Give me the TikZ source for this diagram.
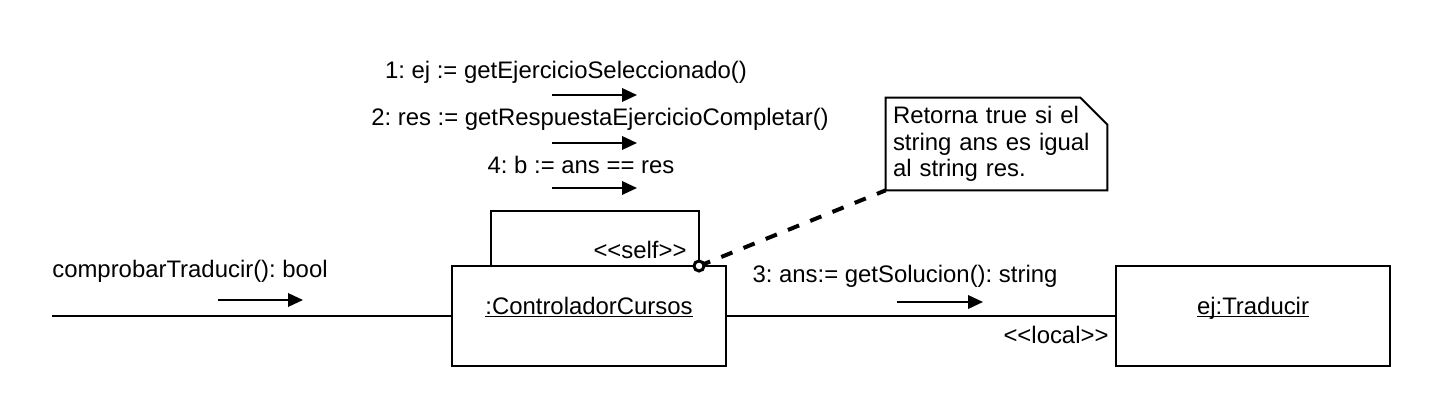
\documentclass[tikz,border=0pt]{standalone}
\usepackage{fontspec}
\setmainfont{Liberation Sans}
\usetikzlibrary{positioning,calc}
\usetikzlibrary{arrows.meta}
\newcommand{\estereo}[1]{<\kern0pt<#1>\kern0pt>}
\newcommand{\objname}[1]{\underline{\smash{#1}}}
\tikzset{
  obj/.style={draw=black,line width=0.04cm,fill=white,minimum width=5.48cm,minimum height=2cm,inner sep=0pt},
  link/.style={draw=black,line width=0.04cm},
  msg/.style={draw=black,line width=0.04cm,-{Triangle[length=0.3cm,width=0.27cm]}},
  lbl/.style={inner sep=0pt},
}
\tikzset{notebox/.style={minimum width=4.42cm,minimum height=1.84cm,inner sep=0.14cm,align=left,text width=4.14cm}, notelink/.style={draw=black,line width=0.08cm,dash pattern=on 0.24cm off 0.24cm}}

\begin{document}
\frenchspacing
\begin{tikzpicture}[x=0.02cm,y=-0.02cm,font=\fontsize{13.6}{15.2}\selectfont]
\useasboundingbox (0,0) rectangle (1442,418);
% objects
\node[obj] (ctrl) at (589,316) {\objname{:ControladorCursos}};
\node[obj] (traducir) at (1253,316) {\objname{ej:Traducir}};
\coordinate (inicio) at (52,316);
\draw[link] (inicio) -- (ctrl.west);
\draw[link] (ctrl.east) -- (traducir.west);
% self link
\coordinate (selfL) at (491,266);
\coordinate (selfR) at (699,266);
\draw[link] (selfL) -- ++(0,-55) -| (selfR);
\node[lbl] (self) at (640,250) {\estereo{self}};
\node[lbl] (local) at (1056,335) {\estereo{local}};
% messages
\node[lbl] (llamada) at (190,271) {comprobarTraducir(): bool};
\coordinate (c0a) at (218,300);
\coordinate (c0b) at (303,300);
\draw[msg] (c0a) -- (c0b);
\node[lbl] (m1) at (566,72) {1: ej := getEjercicioSeleccionado()};
\node[lbl] (m2) at (600,119) {2: res := getRespuestaEjercicioCompletar()};
\node[lbl] (m4) at (581,165) {4: b := ans == res};
\foreach \i/\yy in {1/95,2/143,4/188}{
  \coordinate (s\i a) at (552,\yy);
  \coordinate (s\i b) at (637,\yy);
  \draw[msg] (s\i a) -- (s\i b);
}
\node[lbl] (m3) at (905,276) {3: ans:= getSolucion(): string};
\coordinate (c3a) at (897,302);
\coordinate (c3b) at (983,302);
\draw[msg] (c3a) -- (c3b);
% note
\node[notebox] (nota) at (996.5,144) {};
\draw[link,fill=white] (nota.south west) -- (nota.north west) -- ($(nota.north east)+(-27,0)$)
  -- ($(nota.north east)+(0,27)$) -- (nota.south east) -- cycle;
\node[notebox] (notatexto) at (nota) {Retorna true si el\\string ans es igual\\al string res.};
\draw[notelink] (selfR) -- (nota.south west);
\draw[draw=black,line width=0.06cm,fill=white] (selfR) circle (0.1cm);
\end{tikzpicture}
\end{document}
